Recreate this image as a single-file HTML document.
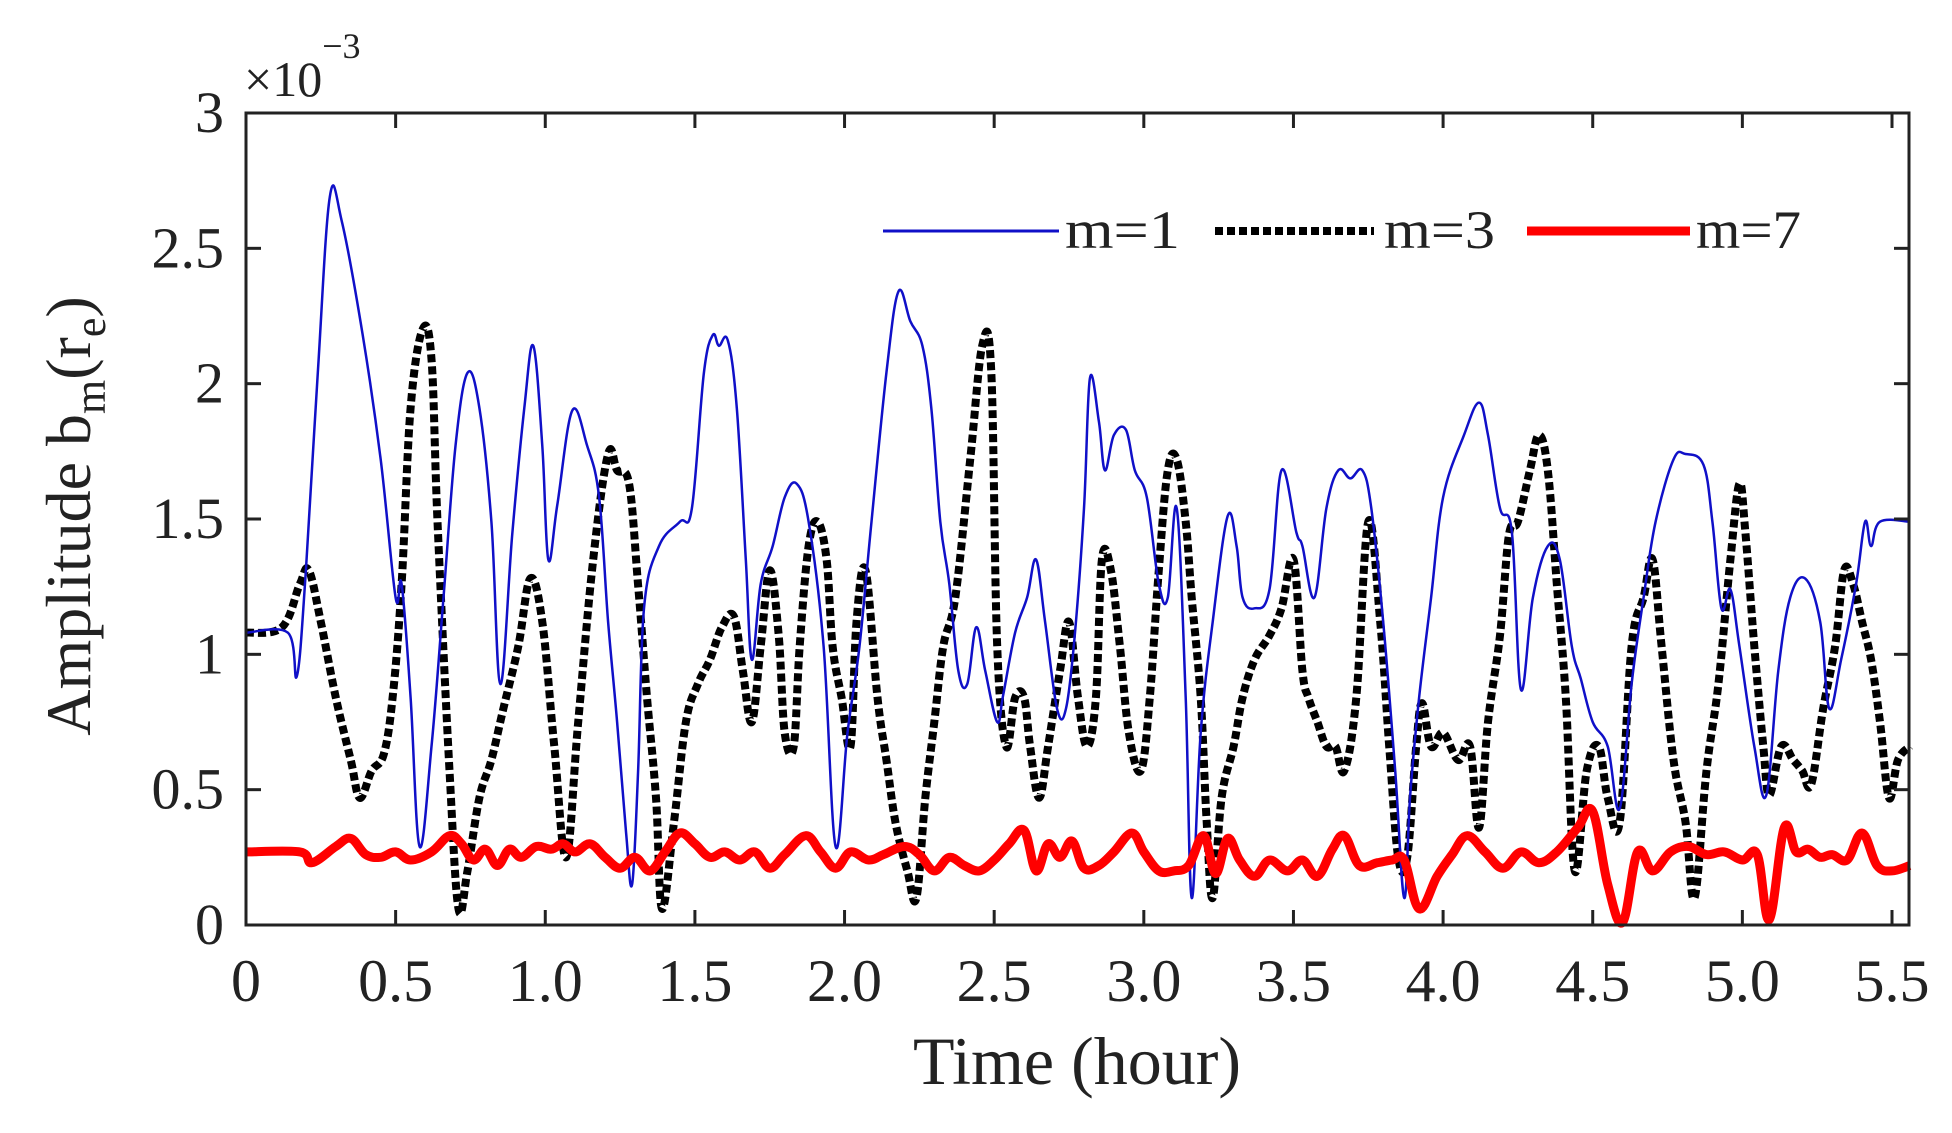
<!DOCTYPE html>
<html><head><meta charset="utf-8"><style>
html,body{margin:0;padding:0;background:#fff;}
svg{display:block;font-family:"Liberation Serif",serif;}
</style></head><body>
<svg id="chart" width="1952" height="1133" viewBox="0 0 1952 1133" xmlns="http://www.w3.org/2000/svg">
<rect width="1952" height="1133" fill="#fff"/>
<g id="plot"></g>
<g id="axes"></g>
</svg>
<script>
const xTicks=[0,0.5,1.0,1.5,2.0,2.5,3.0,3.5,4.0,4.5,5.0,5.5];
const xTickLabels=["0","0.5","1.0","1.5","2.0","2.5","3.0","3.5","4.0","4.5","5.0","5.5"];
const yTicks=[0,0.5,1,1.5,2,2.5,3];
const yTickLabels=["0","0.5","1","1.5","2","2.5","3"];
const m1T=[0,0.14,0.17,0.20,0.24,0.28,0.32,0.39,0.45,0.50,0.52,0.55,0.58,0.62,0.66,0.70,0.74,0.78,0.82,0.85,0.89,0.93,0.96,0.99,1.01,1.04,1.09,1.14,1.18,1.21,1.24,1.27,1.29,1.31,1.33,1.38,1.45,1.49,1.53,1.56,1.58,1.61,1.64,1.67,1.69,1.72,1.76,1.80,1.84,1.88,1.93,1.97,2.01,2.05,2.09,2.14,2.18,2.22,2.26,2.29,2.32,2.35,2.38,2.41,2.44,2.47,2.51,2.53,2.57,2.61,2.64,2.67,2.71,2.74,2.77,2.80,2.82,2.85,2.87,2.90,2.94,2.97,3.01,3.05,3.08,3.11,3.14,3.16,3.19,3.23,3.28,3.31,3.33,3.37,3.42,3.46,3.51,3.53,3.57,3.61,3.65,3.69,3.73,3.76,3.80,3.84,3.87,3.89,3.92,3.96,4.00,4.07,4.12,4.15,4.19,4.23,4.26,4.30,4.35,4.39,4.43,4.46,4.50,4.55,4.59,4.63,4.67,4.71,4.77,4.81,4.87,4.90,4.93,4.96,4.99,5.04,5.08,5.12,5.16,5.21,5.26,5.29,5.33,5.38,5.41,5.43,5.46,5.56];
const m1V=[1.08,1.08,0.92,1.31,2.04,2.69,2.60,2.18,1.72,1.21,1.26,0.84,0.29,0.66,1.21,1.77,2.04,1.91,1.49,0.89,1.45,1.91,2.14,1.77,1.35,1.55,1.90,1.77,1.58,1.12,0.75,0.34,0.15,0.56,1.17,1.40,1.49,1.54,2.04,2.18,2.14,2.16,1.91,1.35,0.98,1.26,1.40,1.58,1.63,1.49,1.03,0.29,0.71,1.03,1.49,2.04,2.34,2.23,2.14,1.91,1.49,1.26,0.94,0.89,1.10,0.94,0.75,0.85,1.08,1.21,1.35,1.12,0.80,0.80,1.08,1.54,2.02,1.86,1.68,1.81,1.83,1.68,1.58,1.26,1.21,1.54,0.84,0.10,0.71,1.12,1.51,1.40,1.21,1.17,1.24,1.68,1.45,1.40,1.21,1.54,1.68,1.65,1.68,1.54,1.12,0.57,0.10,0.48,0.84,1.21,1.58,1.81,1.93,1.81,1.54,1.45,0.87,1.21,1.40,1.35,1.03,0.91,0.75,0.66,0.43,0.89,1.21,1.49,1.72,1.74,1.70,1.49,1.17,1.24,1.03,0.66,0.48,0.94,1.21,1.28,1.12,0.80,0.98,1.26,1.49,1.40,1.49,1.49];
const m3T=[0,0.12,0.18,0.21,0.25,0.30,0.35,0.38,0.42,0.46,0.49,0.52,0.55,0.59,0.62,0.64,0.68,0.71,0.74,0.78,0.82,0.86,0.91,0.95,0.99,1.03,1.07,1.11,1.16,1.21,1.24,1.28,1.31,1.34,1.37,1.39,1.43,1.47,1.51,1.55,1.59,1.63,1.66,1.69,1.72,1.75,1.78,1.80,1.83,1.85,1.88,1.91,1.94,1.96,1.99,2.02,2.04,2.07,2.11,2.14,2.17,2.21,2.24,2.27,2.30,2.33,2.37,2.42,2.46,2.49,2.51,2.54,2.57,2.60,2.62,2.65,2.68,2.72,2.75,2.78,2.81,2.84,2.86,2.89,2.92,2.95,2.99,3.02,3.05,3.08,3.11,3.14,3.16,3.19,3.21,3.23,3.26,3.30,3.33,3.37,3.42,3.46,3.50,3.53,3.55,3.58,3.61,3.64,3.67,3.71,3.75,3.79,3.82,3.85,3.88,3.91,3.93,3.96,4.00,4.05,4.09,4.12,4.15,4.19,4.22,4.25,4.29,4.32,4.35,4.38,4.41,4.44,4.48,4.52,4.55,4.59,4.63,4.67,4.70,4.73,4.77,4.81,4.84,4.88,4.92,4.96,4.99,5.01,5.04,5.07,5.09,5.13,5.17,5.20,5.23,5.27,5.31,5.34,5.37,5.40,5.43,5.46,5.49,5.52,5.56];
const m3V=[1.08,1.10,1.26,1.31,1.12,0.84,0.61,0.47,0.57,0.63,0.84,1.26,1.91,2.20,2.09,1.49,0.57,0.06,0.20,0.47,0.61,0.80,1.03,1.28,1.12,0.66,0.25,0.75,1.35,1.74,1.68,1.63,1.26,0.84,0.47,0.06,0.38,0.75,0.89,0.98,1.10,1.14,0.94,0.75,1.03,1.31,1.07,0.71,0.66,1.03,1.40,1.49,1.35,1.03,0.84,0.66,1.12,1.31,0.84,0.61,0.38,0.20,0.10,0.47,0.75,1.03,1.21,1.72,2.14,2.05,1.03,0.66,0.84,0.84,0.66,0.47,0.66,0.94,1.12,0.84,0.66,0.84,1.35,1.31,1.03,0.71,0.57,0.84,1.31,1.68,1.72,1.49,1.21,0.84,0.38,0.10,0.47,0.66,0.84,0.98,1.07,1.17,1.35,0.94,0.84,0.75,0.66,0.66,0.57,0.84,1.49,1.12,0.66,0.25,0.25,0.66,0.82,0.66,0.71,0.61,0.66,0.36,0.75,1.07,1.44,1.49,1.68,1.81,1.68,1.26,0.84,0.20,0.57,0.66,0.47,0.38,1.03,1.21,1.35,1.03,0.61,0.38,0.10,0.57,0.89,1.35,1.63,1.45,1.03,0.66,0.48,0.66,0.61,0.57,0.52,0.80,1.03,1.31,1.26,1.12,0.98,0.75,0.47,0.61,0.66];
const m7T=[0,0.18,0.22,0.30,0.35,0.40,0.45,0.50,0.55,0.62,0.68,0.72,0.76,0.80,0.84,0.88,0.92,0.97,1.02,1.06,1.10,1.15,1.20,1.25,1.30,1.35,1.40,1.45,1.50,1.55,1.60,1.65,1.70,1.75,1.80,1.87,1.92,1.97,2.02,2.08,2.13,2.20,2.25,2.30,2.35,2.40,2.45,2.50,2.55,2.60,2.64,2.68,2.72,2.76,2.80,2.85,2.90,2.96,3.00,3.05,3.10,3.15,3.20,3.24,3.28,3.32,3.37,3.42,3.48,3.53,3.58,3.63,3.67,3.72,3.78,3.83,3.87,3.92,3.98,4.03,4.08,4.14,4.20,4.26,4.32,4.38,4.45,4.50,4.55,4.60,4.65,4.70,4.76,4.82,4.88,4.94,5.00,5.05,5.09,5.14,5.18,5.22,5.26,5.30,5.35,5.40,5.45,5.50,5.56];
const m7V=[0.27,0.27,0.23,0.29,0.32,0.26,0.25,0.27,0.24,0.27,0.33,0.30,0.24,0.28,0.22,0.28,0.25,0.29,0.28,0.30,0.27,0.30,0.25,0.21,0.25,0.20,0.27,0.34,0.30,0.25,0.27,0.24,0.27,0.21,0.26,0.33,0.27,0.21,0.27,0.24,0.26,0.29,0.26,0.20,0.25,0.22,0.20,0.24,0.30,0.35,0.20,0.30,0.25,0.31,0.21,0.22,0.27,0.34,0.27,0.20,0.20,0.22,0.33,0.19,0.32,0.24,0.18,0.24,0.20,0.24,0.18,0.28,0.33,0.22,0.23,0.24,0.24,0.06,0.18,0.26,0.33,0.27,0.21,0.27,0.23,0.27,0.36,0.42,0.15,0.01,0.27,0.20,0.27,0.29,0.26,0.27,0.24,0.26,0.02,0.36,0.27,0.28,0.25,0.26,0.24,0.34,0.22,0.20,0.22];

const L=246,R=1909,T=113,B=925;
const xs=v=>L+v*(1892-246)/5.5;
const ys=v=>B-v*(B-T)/3;
const NS="http://www.w3.org/2000/svg";
function mk(tag,attrs,parent,text){const e=document.createElementNS(NS,tag);for(const k in attrs)e.setAttribute(k,attrs[k]);if(text!==undefined)e.textContent=text;parent.appendChild(e);return e;}
const plot=document.getElementById('plot'),axes=document.getElementById('axes');
function pathOf(t,v){
  const p=t.map((x,i)=>[xs(x),ys(v[i])]);
  let d='M'+p[0][0].toFixed(1)+' '+p[0][1].toFixed(1);
  const k=0.18;
  for(let i=0;i<p.length-1;i++){
    const p0=p[Math.max(0,i-1)],p1=p[i],p2=p[i+1],p3=p[Math.min(p.length-1,i+2)];
    const c1x=p1[0]+(p2[0]-p0[0])*k,c1y=p1[1]+(p2[1]-p0[1])*k;
    const c2x=p2[0]-(p3[0]-p1[0])*k,c2y=p2[1]-(p3[1]-p1[1])*k;
    d+=' C'+c1x.toFixed(1)+' '+c1y.toFixed(1)+' '+c2x.toFixed(1)+' '+c2y.toFixed(1)+' '+p2[0].toFixed(1)+' '+p2[1].toFixed(1);
  }
  return d;
}
const p3=mk('path',{d:pathOf(m3T,m3V),fill:'none',stroke:'#000','stroke-width':8,'stroke-dasharray':'8 4'},plot);


const p1=mk('path',{d:pathOf(m1T,m1V),fill:'none',stroke:'#1010c8','stroke-width':2.5,'stroke-linejoin':'round'},plot);


const p7=mk('path',{d:pathOf(m7T,m7V),fill:'none',stroke:'#f00','stroke-width':9,'stroke-linejoin':'round'},plot);


const box=mk('rect',{x:L,y:T,width:R-L,height:B-T,fill:'none',stroke:'#222','stroke-width':3},axes);


xTicks.forEach((v,i)=>{
  const x=xs(v);
  mk('line',{x1:x,y1:B,x2:x,y2:B-15,stroke:'#222','stroke-width':3},axes);
  mk('line',{x1:x,y1:T,x2:x,y2:T+15,stroke:'#222','stroke-width':3},axes);
  const t=mk('text',{x:x,y:1001,'font-size':60,'text-anchor':'middle',fill:'#222'},axes,xTickLabels[i]);
  
  
});
yTicks.forEach((v,i)=>{
  const y=ys(v);
  mk('line',{x1:L,y1:y,x2:L+15,y2:y,stroke:'#222','stroke-width':3},axes);
  mk('line',{x1:R,y1:y,x2:R-15,y2:y,stroke:'#222','stroke-width':3},axes);
  const t=mk('text',{x:224,y:y+19,'font-size':58,'text-anchor':'end',fill:'#222'},axes,yTickLabels[i]);
  
  
});
</script>
<svg style="position:absolute;left:0;top:0" width="1952" height="1133" xmlns="http://www.w3.org/2000/svg" font-family="Liberation Serif, serif">
<text x="244" y="96" font-size="50" fill="#222">×10<tspan font-size="36" dy="-38">−3</tspan></text>
<text x="1077" y="1084" font-size="68" text-anchor="middle" fill="#222">Time (hour)</text>
<text transform="translate(90,516) rotate(-90)" font-size="64" text-anchor="middle" fill="#222">Amplitude b<tspan font-size="44" dy="15">m</tspan><tspan dy="-15">(r</tspan><tspan font-size="44" dy="15">e</tspan><tspan dy="-15">)</tspan></text>
<g>
<line x1="883" y1="231" x2="1059" y2="231" stroke="#1010c8" stroke-width="3"/>
<text x="1065" y="248" font-size="54" textLength="115" lengthAdjust="spacingAndGlyphs" fill="#222">m=1</text>
<line x1="1215" y1="231" x2="1374" y2="231" stroke="#000" stroke-width="8" stroke-dasharray="8 4"/>
<text x="1384" y="248" font-size="54" textLength="111" lengthAdjust="spacingAndGlyphs" fill="#222">m=3</text>
<line x1="1527" y1="231" x2="1690" y2="231" stroke="#f00" stroke-width="9"/>
<text x="1696" y="248" font-size="54" textLength="105" lengthAdjust="spacingAndGlyphs" fill="#222">m=7</text>
</g>
</svg>
</body></html>
